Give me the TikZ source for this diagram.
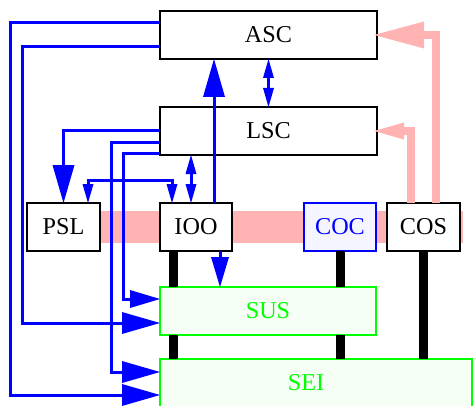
\documentclass[tikz,border=0pt]{standalone}
\usepackage{fontspec}
\setmainfont{Liberation Serif}
\usetikzlibrary{arrows.meta,backgrounds}
\definecolor{pinkbar}{RGB}{255,179,179}
\definecolor{boxgreen}{RGB}{0,255,0}
\definecolor{susfill}{RGB}{245,255,245}
\definecolor{cocfill}{RGB}{245,245,255}

\begin{document}
\begin{tikzpicture}[
  x=1pt, y=-1pt,
  every node/.style={font=\fontsize{24.2}{28}\selectfont, inner sep=0pt, outer sep=0pt},
  box/.style={draw, fill=white, line width=1.2pt, minimum width=217pt, minimum height=48pt},
  smallbox/.style={box, minimum width=73pt},
  sbox/.style={box, draw=boxgreen, fill=susfill, text=boxgreen},
  line/.style={draw=blue, line width=3pt},
  bus/.style={draw=black, line width=9pt},
  feed/.style={draw=pinkbar, line width=8pt, shorten >=-3pt},
  bighead/.style={-{Triangle[length=38pt, width=22pt, line width=0pt]}},
  midhead/.style={-{Triangle[length=30pt, width=18pt, line width=0pt]}},
  twoway/.style={{Triangle[length=19pt, width=11pt, line width=0pt]}-{Triangle[length=19pt, width=11pt, line width=0pt]}}
]
\useasboundingbox (0, 0) rectangle (473, 406);

% Upper nodes
\node[box] (asc) at (268.5, 35) {ASC};
\node[box] (lsc) at (268.5, 131) {LSC};

% Middle row
\node[smallbox] (psl) at (63.5, 227) {PSL};
\node[smallbox, minimum width=72pt] (ioo) at (196, 227) {IOO};
\node[smallbox, minimum width=72pt, draw=blue, fill=cocfill, text=blue] (coc) at (340, 227) {COC};
\node[smallbox] (cos) at (423.5, 227) {COS};

% Lower nodes
\node[sbox, minimum width=216pt] (sus) at (268, 311) {SUS};
\node[sbox, minimum width=312pt] (sei) at (316, 383) {\hspace{-20pt}SEI};

% Pink bar behind the middle row
\coordinate (barend) at (463, 227);
\begin{scope}[on background layer]
  \draw[draw=pinkbar, line width=32pt] (psl.center) -- (barend);
\end{scope}

% Thick links down to SUS and SEI
\draw[bus] ([xshift=13pt]ioo.south west) -- ([xshift=13pt]ioo.south west |- sus.north);
\draw[bus] ([xshift=13pt]sus.south west) -- ([xshift=13pt]sus.south west |- sei.north);
\draw[bus] (coc.south) -- (coc.south |- sus.north);
\draw[bus] (coc.south |- sus.south) -- (coc.south |- sei.north);
\draw[bus] (cos.south) -- (cos.south |- sei.north);

% Lines from ASC and LSC on the left
\draw[line, bighead] ([yshift=12pt]asc.west) -| (10, 395) -- ([yshift=-12pt]sei.west);
\draw[line, bighead] ([yshift=-12pt]asc.west) -| (22, 323) -- ([yshift=-12pt]sus.west);
\draw[line, bighead] (lsc.west) -| (psl.north);
\draw[line, bighead] ([yshift=-12pt]lsc.west) -| (111, 372) -- ([yshift=11pt]sei.west);
\draw[line, midhead] ([yshift=-23pt]lsc.west) -| (123, 299) -- ([yshift=12pt]sus.west);

% Two-way lines
\draw[line, twoway] ([xshift=24.5pt]psl.north) -- ++(0, -23) -| ([xshift=-24pt]ioo.north);
\draw[line, twoway] (asc) -- (lsc);
\draw[line, twoway] ([xshift=-5pt]ioo.north |- lsc.south) -- ([xshift=-5pt]ioo.north);

% Lines from IOO
\draw[line, bighead] ([xshift=18pt]ioo.north) -- ([xshift=18pt]ioo.north |- asc.south);
\draw[line, midhead] ([xshift=24pt]ioo.south) -- ([xshift=24pt]ioo.south |- sus.north);

% Pink lines from COS
\draw[feed, -{Triangle[length=50pt, width=27pt, line width=0pt]}] ([xshift=12.5pt]cos.north) |- (asc.east);
\draw[feed, -{Triangle[length=30pt, width=17pt, line width=0pt]}] ([xshift=-12.5pt]cos.north) |- (lsc.east);

\end{tikzpicture}
\end{document}
